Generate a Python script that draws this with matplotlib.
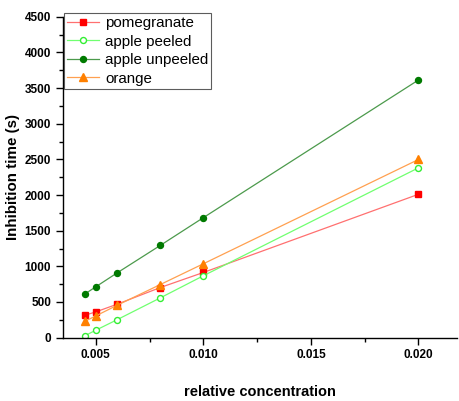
import numpy as np
import matplotlib
matplotlib.use('Agg')
import matplotlib.pyplot as plt
from matplotlib.ticker import MultipleLocator

plt.rcParams['font.family'] = ['Liberation Sans', 'DejaVu Sans']

conc = [0.0045, 0.005, 0.006, 0.008, 0.010, 0.020]
pomegranate = [315, 361, 470, 703, 914, 2011]
apple_peeled = [28, 104, 253, 558, 868, 2382]
apple_unpeeled = [614, 713, 910, 1294, 1683, 3614]
orange = [230, 305, 455, 745, 1036, 2499]

fig = plt.figure(figsize=(4.59, 4.01), dpi=100)
ax = fig.add_axes([0.137, 0.158, 0.859, 0.800])

ax.plot(conc, pomegranate, '-s', color='#FF7070', lw=0.9, ms=3.8,
        mfc='#FF0000', mec='#FF0000', label='pomegranate')
ax.plot(conc, apple_peeled, '-o', color='#70FF70', lw=0.9, ms=4.3,
        mfc='white', mec='#33EE33', label='apple peeled')
ax.plot(conc, apple_unpeeled, '-o', color='#4C9A4C', lw=0.9, ms=4.3,
        mfc='#007A00', mec='#007A00', label='apple unpeeled')
ax.plot(conc, orange, '-^', color='#FFA050', lw=0.9, ms=5.2,
        mfc='#FF8000', mec='#FF8000', label='orange')

ax.set_xlim(0.00347, 0.0218)
ax.set_ylim(0, 4500)
ax.xaxis.set_minor_locator(MultipleLocator(0.0025))
ax.yaxis.set_major_locator(MultipleLocator(500))
ax.yaxis.set_minor_locator(MultipleLocator(250))
ax.set_xticks([0.005, 0.010, 0.015, 0.020])
ax.set_xticklabels(['0.005', '0.010', '0.015', '0.020'])

for s in ['top', 'right']:
    ax.spines[s].set_visible(False)
for s in ['left', 'bottom']:
    ax.spines[s].set_linewidth(1.0)

ax.tick_params(which='major', direction='out', length=5, width=1, labelsize=8.5)
ax.tick_params(which='minor', direction='out', length=3, width=1)
for lab in ax.get_xticklabels() + ax.get_yticklabels():
    lab.set_fontweight('bold')

ax.set_xlabel('relative concentration', fontsize=10.5, fontweight='bold', labelpad=17)
ax.set_ylabel('Inhibition time (s)', fontsize=10.9, fontweight='bold', labelpad=3)

leg = ax.legend(loc='upper left', bbox_to_anchor=(0.003, 1.012), fontsize=10.9,
                frameon=True, fancybox=False, edgecolor='#333333',
                handlelength=2.1, borderpad=0.2, labelspacing=0.3,
                handletextpad=0.4, borderaxespad=0)
leg.get_frame().set_linewidth(0.8)

fig.savefig('out.png', dpi=100)
